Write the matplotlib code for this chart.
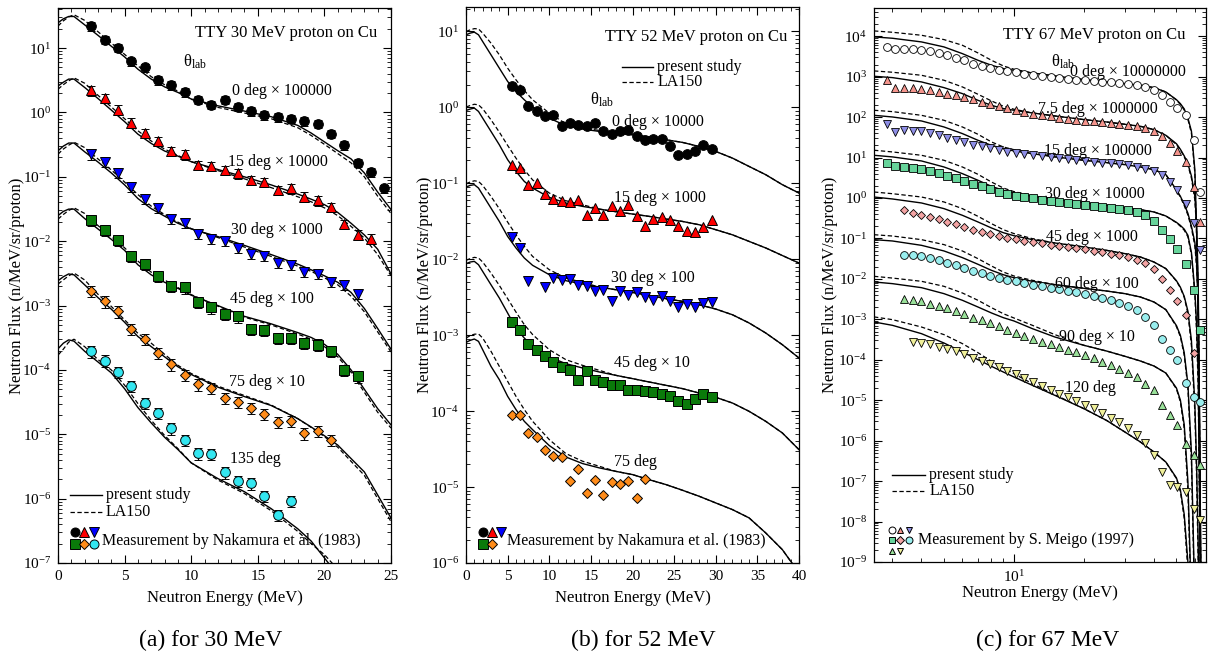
import numpy as np
import matplotlib
matplotlib.use("Agg")
import matplotlib.pyplot as plt
from matplotlib.ticker import LogLocator, NullFormatter, MultipleLocator

plt.rcParams['font.family'] = ['Liberation Serif', 'DejaVu Serif']
plt.rcParams['mathtext.fontset'] = 'custom'
plt.rcParams['mathtext.rm'] = 'Liberation Serif'
plt.rcParams['mathtext.it'] = 'Liberation Serif:italic'
plt.rcParams['axes.linewidth'] = 0.9
plt.rcParams['axes.unicode_minus'] = False

nan = np.nan

# ---------------- (a) 30 MeV : calculations ----------------
ea = [0, 0.4, 0.8, 1.2, 2, 3, 4, 5, 6, 7, 8, 9, 10, 12, 14, 16, 18, 19, 20, 21, 22, 23, 24, 25]
a_pres_0 = [24.7, 28.5, 31.0, 31.0, 23.0, 15.8, 10.7, 7.3, 4.7, 3.3, 2.5, 2.05, 1.62, 1.27, 1.05, 0.86, 0.63, 0.48, 0.35, 0.255, 0.19, 0.115, 0.058, 0.031]
a_la_0 = [22.0, 26.5, 30.5, 33.0, 27.0, 18.0, 12.0, 8.0, 5.3, 3.6, 2.7, 2.15, 1.6, 1.2, 0.98, 0.80, 0.58, 0.44, 0.32, 0.23, 0.165, 0.10, 0.05, 0.027]
a_pres_15 = [2.58, 2.95, 3.3, 3.3, 2.45, 1.65, 1.09, 0.72, 0.46, 0.33, 0.252, 0.21, 0.172, 0.13, 0.10, 0.075, 0.054, 0.045, 0.037, 0.028, 0.019, 0.0125, 0.0075, 0.0031]
a_la_15 = [2.3, 2.7, 3.1, 3.45, 2.85, 1.85, 1.22, 0.80, 0.52, 0.36, 0.27, 0.215, 0.172, 0.125, 0.093, 0.068, 0.049, 0.041, 0.033, 0.025, 0.017, 0.0112, 0.0062, 0.0029]
a_pres_30 = [0.254, 0.30, 0.335, 0.335, 0.245, 0.17, 0.115, 0.075, 0.046, 0.032, 0.0245, 0.019, 0.0155, 0.0118, 0.0086, 0.0062, 0.0044, 0.0036, 0.0029, 0.0023, 0.0016, 0.0009, 0.00044, 0.00021]
a_la_30 = [0.225, 0.27, 0.31, 0.345, 0.285, 0.19, 0.128, 0.083, 0.053, 0.035, 0.026, 0.0198, 0.0157, 0.0114, 0.0081, 0.0058, 0.0041, 0.0034, 0.0027, 0.0021, 0.0014, 0.0008, 0.00039, 0.00019]
a_pres_45 = [0.025, 0.029, 0.0315, 0.0315, 0.0225, 0.0155, 0.0107, 0.0072, 0.0043, 0.003, 0.0023, 0.00185, 0.00145, 0.001, 0.00068, 0.00052, 0.00038, 0.00032, 0.00025, 0.000175, 0.0001, 5e-5, 2.5e-5, 1.4e-5]
a_la_45 = [0.022, 0.026, 0.030, 0.033, 0.027, 0.0175, 0.0118, 0.0079, 0.0049, 0.0033, 0.0025, 0.0019, 0.00148, 0.00098, 0.00066, 0.0005, 0.00036, 0.0003, 0.00023, 0.00016, 9.2e-5, 4.5e-5, 2.2e-5, 1.25e-5]
a_pres_75 = [0.00243, 0.0028, 0.0031, 0.0030, 0.0021, 0.00133, 0.00088, 0.00055, 0.00033, 0.00023, 0.00016, 0.000112, 8.5e-5, 5.4e-5, 3.85e-5, 2.8e-5, 1.75e-5, 1.3e-5, 9.5e-6, 6.8e-6, 4.2e-6, 2.6e-6, 1.14e-6, 5e-7]
a_la_75 = [0.00216, 0.0025, 0.0029, 0.0032, 0.0025, 0.0015, 0.00097, 0.0006, 0.00037, 0.00026, 0.000175, 0.000118, 8.8e-5, 5.6e-5, 4.0e-5, 2.85e-5, 1.75e-5, 1.28e-5, 9.2e-6, 6.3e-6, 3.8e-6, 2.3e-6, 1.0e-6, 4.4e-7]
a_pres_135 = [2.13e-4, 2.6e-4, 2.93e-4, 2.8e-4, 1.95e-4, 1.33e-4, 9.0e-5, 5.1e-5, 2.6e-5, 1.5e-5, 9.0e-6, 5.8e-6, 3.6e-6, 2.05e-6, 1.28e-6, 7.0e-7, 3.4e-7, 2.2e-7, 1.2e-7, 6.5e-8, 3.5e-8, 1.8e-8, 9e-9, 4.5e-9]
a_la_135 = [1.7e-4, 2.1e-4, 2.7e-4, 3.0e-4, 2.3e-4, 1.45e-4, 1.0e-4, 5.8e-5, 3.0e-5, 1.65e-5, 9.6e-6, 6.0e-6, 3.6e-6, 1.95e-6, 1.2e-6, 6.5e-7, 3.1e-7, 2.0e-7, 1.35e-7, 8e-8, 4e-8, 2e-8, 1e-8, 5e-9]

# ---------------- (a) 30 MeV : Nakamura et al. (1983) ----------------
a_e_meas = [2.5, 3.5, 4.5, 5.5, 6.5, 7.5, 8.5, 9.5, 10.5, 11.5, 12.5, 13.5, 14.5, 15.5, 16.5, 17.5, 18.5, 19.5, 20.5, 21.5, 22.5, 23.5, 24.5]
a_m_0 = [22, 13.5, 10.2, 6.2, 5.0, 3.2, 2.64, 2.06, 1.58, 1.32, 1.58, 1.22, 1.04, 0.91, 0.85, 0.80, 0.73, 0.665, 0.466, 0.311, 0.166, 0.119, 0.066]
a_m_15 = [2.21, 1.68, 1.11, 0.69, 0.48, 0.358, 0.251, 0.223, 0.152, 0.147, 0.127, 0.113, 0.089, 0.083, 0.0625, 0.066, 0.049, 0.0432, 0.034, 0.0184, 0.0126, 0.011]
a_m_30 = [0.223, 0.171, 0.116, 0.070, 0.046, 0.0332, 0.0219, 0.019, 0.0131, 0.011, 0.0101, 0.0078, 0.0063, 0.0059, 0.0046, 0.0043, 0.00336, 0.0031, 0.00235, 0.00209, 0.00151]
a_m_45 = [0.0214, 0.0150, 0.0105, 0.0059, 0.0044, 0.0029, 0.00204, 0.00192, 0.00115, 0.00094, 0.00074, 0.00068, 0.00043, 0.00042, 0.000311, 0.000315, 0.00026, 0.000248, 0.000196, 0.0001, 7.93e-5]
a_m_75 = [0.0017, 0.00116, 0.00081, 0.00043, 0.000304, 0.000185, 0.000122, 8.41e-5, 5.96e-5, 5.23e-5, 3.66e-5, 3.18e-5, 2.56e-5, 2.09e-5, 1.56e-5, 1.61e-5, 1.03e-5, 1.13e-5, 8.1e-6]
a_m_135 = [0.000194, 0.00014, 9.25e-5, 5.62e-5, 3.06e-5, 2.14e-5, 1.23e-5, 8.1e-6, 5.03e-6, 4.9e-6, 2.55e-6, 1.88e-6, 1.73e-6, 1.11e-6, 5.6e-7, 9.3e-7]
a_relerr = [0.15, 0.17, 0.17, 0.2, 0.2, 0.2]

# ---------------- (b) 52 MeV : calculations ----------------
eb = [0, 0.5, 1, 1.5, 2, 3, 4, 5, 6, 7, 8, 10, 12, 14, 16, 18, 20, 22, 24, 26, 28, 30, 32, 34, 36, 38, 40]
b_pres_0 = [9.04, 9.51, 9.80, 9.04, 7.38, 4.93, 3.29, 2.20, 1.62, 1.26, 1.01, 0.723, 0.573, 0.518, 0.483, 0.459, 0.436, 0.407, 0.375, 0.346, 0.306, 0.263, 0.215, 0.167, 0.130, 0.096, 0.0745]
b_la_0 = [10.0, 10.5, 10.9, 10.8, 9.51, 7.02, 4.93, 3.29, 2.31, 1.67, 1.26, 0.841, 0.609, 0.535, 0.498, 0.468, 0.436, 0.407, 0.375, 0.346, 0.306, 0.263, 0.215, 0.167, 0.130, 0.096, 0.0745]
b_pres_15 = [0.912, 0.95, 0.98, 0.885, 0.723, 0.483, 0.322, 0.205, 0.144, 0.106, 0.0867, 0.0653, 0.0550, 0.0497, 0.0458, 0.0423, 0.0394, 0.0367, 0.0339, 0.0315, 0.0285, 0.0245, 0.0210, 0.0172, 0.0141, 0.0112, 0.00891]
b_la_15 = [1.01, 1.06, 1.10, 1.08, 0.96, 0.687, 0.473, 0.316, 0.215, 0.151, 0.111, 0.0745, 0.059, 0.0522, 0.0458, 0.0423, 0.0394, 0.0367, 0.0339, 0.0315, 0.0285, 0.0245, 0.0210, 0.0172, 0.0141, 0.0112, 0.00891]
b_pres_30 = [0.0893, 0.0939, 0.096, 0.0867, 0.0708, 0.0472, 0.0315, 0.0200, 0.0141, 0.0104, 0.00832, 0.00627, 0.00522, 0.00472, 0.00431, 0.00397, 0.00366, 0.00335, 0.00303, 0.00279, 0.00252, 0.00221, 0.00186, 0.00145, 0.00107, 0.00075, 0.000501]
b_la_30 = [0.0989, 0.104, 0.108, 0.106, 0.0939, 0.0673, 0.0463, 0.0309, 0.0210, 0.0148, 0.0109, 0.00729, 0.00566, 0.00497, 0.00431, 0.00397, 0.00366, 0.00335, 0.00303, 0.00279, 0.00252, 0.00221, 0.00186, 0.00145, 0.00107, 0.00075, 0.000501]
b_pres_45 = [0.00875, 0.0092, 0.00938, 0.00848, 0.00693, 0.00462, 0.00309, 0.00196, 0.00124, 0.000918, 0.000713, 0.000516, 0.000422, 0.00037, 0.000328, 0.000296, 0.000268, 0.000242, 0.000219, 0.000198, 0.000173, 0.000152, 0.000128, 9.95e-5, 7.35e-5, 5.16e-5, 3.11e-5]
b_la_45 = [0.00968, 0.0102, 0.0106, 0.0104, 0.0092, 0.00659, 0.00453, 0.00303, 0.00202, 0.00138, 0.00102, 0.000645, 0.000476, 0.000401, 0.000345, 0.000296, 0.000268, 0.000242, 0.000219, 0.000198, 0.000173, 0.000152, 0.000128, 9.95e-5, 7.35e-5, 5.16e-5, 3.11e-5]
b_pres_75 = [0.000805, 0.000855, 0.000891, 0.00083, 0.000645, 0.000389, 0.00026, 0.000157, 0.000105, 7.35e-5, 5.7e-5, 3.52e-5, 2.49e-5, 2.04e-5, 1.79e-5, 1.61e-5, 1.46e-5, 1.25e-5, 1.08e-5, 9.08e-6, 7.57e-6, 6.18e-6, 5.05e-6, 3.93e-6, 2.49e-6, 1.5e-6, 7.4e-7]
b_la_75 = [0.000918, 0.000986, 0.00103, 0.00104, 0.000918, 0.000614, 0.000389, 0.000247, 0.000157, 0.000105, 7.35e-5, 4.22e-5, 2.76e-5, 2.19e-5, 1.88e-5, 1.61e-5, 1.46e-5, 1.25e-5, 1.08e-5, 9.08e-6, 7.57e-6, 6.18e-6, 5.05e-6, 3.93e-6, 2.49e-6, 1.5e-6, 7.4e-7]

# ---------------- (b) 52 MeV : Nakamura et al. (1983) ----------------
b_e_meas = [5.5, 6.5, 7.5, 8.5, 9.5, 10.5, 11.5, 12.5, 13.5, 14.5, 15.5, 16.5, 17.5, 18.5, 19.5, 20.5, 21.5, 22.5, 23.5, 24.5, 25.5, 26.5, 27.5, 28.5, 29.5]
b_m_0 = [1.89, 1.67, 1.03, 0.904, 0.777, 0.80, 0.561, 0.621, 0.59, 0.561, 0.621, 0.483, 0.45, 0.492, 0.508, 0.424, 0.375, 0.383, 0.383, 0.306, 0.238, 0.245, 0.263, 0.316, 0.282]
b_m_15 = [0.172, 0.159, 0.096, 0.101, 0.0723, 0.0627, 0.059, 0.0561, 0.0608, 0.0386, 0.0468, 0.0386, 0.0497, 0.0428, 0.0522, 0.0367, 0.0277, 0.0342, 0.0356, 0.0332, 0.0277, 0.0238, 0.0226, 0.0263, 0.0325]
b_e_30 = [5.5, 6.5, 7.5, 9.5, 10.5, 11.5, 12.5, 13.5, 14.5, 15.5, 16.5, 17.5, 18.5, 19.5, 20.5, 21.5, 22.5, 23.5, 24.5, 25.5, 26.5, 27.5, 28.5, 29.5]
b_m_30 = [0.0196, 0.0141, 0.00512, 0.0043, 0.00566, 0.00538, 0.0055, 0.00463, 0.0044, 0.00386, 0.00397, 0.00279, 0.00386, 0.00342, 0.00371, 0.00315, 0.00294, 0.00325, 0.00285, 0.00235, 0.0026, 0.00235, 0.00265, 0.00271]
b_m_45 = [0.00148, 0.00118, 0.000774, 0.000632, 0.000527, 0.00044, 0.000378, 0.000345, 0.000255, 0.000334, 0.000255, 0.00024, 0.000223, 0.000223, 0.000192, 0.000192, 0.000182, 0.000179, 0.00017, 0.00016, 0.000135, 0.000126, 0.000146, 0.00017, 0.000155]
b_e_75 = [5.5, 6.5, 7.5, 8.5, 9.5, 10.5, 11.5, 12.5, 13.5, 14.5, 15.5, 16.5, 17.5, 18.5, 19.5, 20.5, 21.5]
b_m_75 = [9.0e-5, 8.81e-5, 5.16e-5, 4.57e-5, 3.05e-5, 2.59e-5, 2.47e-5, 1.19e-5, 1.75e-5, 8.37e-6, 1.25e-5, 7.96e-6, 1.16e-5, 1.1e-5, 1.22e-5, 7.13e-6, 1.28e-5]

# ---------------- (c) 67 MeV : calculations ----------------
ec = [2.5, 3, 4, 5, 6, 7, 8, 9, 10, 12, 15, 20, 25, 30, 35, 40, 45, 50, 52, 54, 56, 58, 60, 61, 62, 63, 64, 66]
c_pres_0 = [9640, 8930, 7250, 5450, 3720, 2550, 1920, 1590, 1440, 1240, 1040, 848, 742, 675, 614, 537, 420,
            270, 215, 160, 95, 45, 5, 0.2, 1e-3, 1e-7, 1e-12, 1e-16]
c_la_0 = [13550, 12560, 10590, 8280, 5990, 3870, 2550, 1850, 1530, 1240, 1040, 848, 742, 675, 614, 537, 420,
          265, 205, 150, 88, 40, 4, 0.12, 5e-4, 5e-8, 5e-13, 1e-16]
c_pres_7 = [1025, 950, 743, 537, 382, 261, 196, 163, 148, 127, 107, 86.9, 76.0, 66.6, 59.4, 49.2, 35.6,
            22, 16, 11, 7, 3.5, 1.1, 0.25, 0.01, 1e-6, 1e-11, 1e-16]
c_la_7 = [1390, 1290, 1085, 817, 559, 368, 252, 186, 157, 127, 107, 86.9, 76.0, 66.6, 59.4, 49.2, 35.6,
          21, 15.5, 10.5, 6.5, 3.1, 0.9, 0.17, 5e-3, 3e-7, 5e-12, 1e-16]
c_pres_15 = [111, 101, 80.5, 57.2, 39.2, 26.8, 20.1, 16.7, 14.6, 12.5, 10.4, 8.57, 7.52, 6.70, 5.86, 5.04, 3.8,
             1.6, 1.1, 0.7, 0.42, 0.2, 0.08, 0.027, 0.004, 1e-6, 1e-11, 1e-16]
c_la_15 = [148, 137, 111, 83.6, 57.2, 37.7, 24.4, 18.3, 15.7, 13.0, 10.4, 8.57, 7.52, 6.70, 5.86, 5.04, 3.8,
           1.55, 1.05, 0.65, 0.38, 0.18, 0.065, 0.02, 0.0025, 5e-7, 5e-12, 1e-16]
c_pres_30 = [11.4, 10.4, 8.26, 5.86, 4.01, 2.75, 1.95, 1.55, 1.33, 1.10, 0.931, 0.769, 0.661, 0.579, 0.516, 0.452, 0.36,
             0.25, 0.21, 0.17, 0.12, 0.045, 0.005, 8e-4, 5e-5, 1e-8, 1e-12, 1e-16]
c_la_30 = [15.2, 13.8, 11.4, 8.57, 5.86, 3.86, 2.49, 1.77, 1.44, 1.15, 0.931, 0.769, 0.661, 0.579, 0.516, 0.452, 0.36,
           0.245, 0.2, 0.16, 0.11, 0.04, 0.004, 5e-4, 2e-5, 5e-9, 5e-13, 1e-16]
c_pres_45 = [1.06, 0.948, 0.755, 0.547, 0.374, 0.256, 0.182, 0.139, 0.117, 0.0936, 0.0774, 0.0617, 0.0509, 0.0422, 0.0348, 0.0262, 0.018,
             0.009, 0.0062, 0.0037, 0.0016, 3e-4, 8e-6, 3e-7, 3e-9, 1e-12, 1e-14, 1e-16]
c_la_45 = [1.41, 1.28, 1.06, 0.80, 0.547, 0.353, 0.233, 0.165, 0.132, 0.099, 0.0774, 0.0617, 0.0509, 0.0422, 0.0348, 0.0262, 0.018,
           0.0088, 0.006, 0.0035, 0.0014, 2.2e-4, 5e-6, 1.5e-7, 1e-9, 5e-13, 5e-15, 1e-16]
c_pres_60 = [0.0936, 0.0867, 0.0677, 0.0491, 0.0336, 0.023, 0.0163, 0.0127, 0.0107, 0.00873, 0.00721, 0.00585, 0.00502, 0.00432, 0.00357, 0.00269, 0.00174,
             7e-4, 4e-4, 1.5e-4, 2.5e-5, 5e-7, 1e-10, 1e-12, 1e-13, 1e-14, 1e-15, 1e-16]
c_la_60 = [0.124, 0.115, 0.0936, 0.0705, 0.0491, 0.0317, 0.0209, 0.0148, 0.0118, 0.00923, 0.00721, 0.00585, 0.00502, 0.00432, 0.00357, 0.00269, 0.00174,
           6.6e-4, 3.7e-4, 1.3e-4, 2e-5, 3e-7, 5e-11, 5e-13, 5e-14, 5e-15, 5e-16, 1e-16]
c_pres_90 = [0.0084, 0.00764, 0.00608, 0.00432, 0.00296, 0.00202, 0.00144, 0.0011, 9.12e-4, 5.89e-4, 3.66e-4, 2.28e-4, 1.65e-4, 1.22e-4, 9.33e-5, 7.03e-5, 4.71e-5,
             2.0e-5, 1.0e-5, 2.5e-6, 1e-7, 1e-10, 1e-13, 1e-14, 1e-15, 1e-15, 1e-16, 1e-16]
c_la_90 = [0.0116, 0.0105, 0.00873, 0.00656, 0.00449, 0.00296, 0.00195, 0.00138, 0.00108, 7.12e-4, 4.19e-4, 2.28e-4, 1.65e-4, 1.22e-4, 9.33e-5, 7.03e-5, 4.71e-5,
           1.9e-5, 9e-6, 2e-6, 6e-8, 5e-11, 5e-14, 5e-15, 5e-16, 5e-16, 1e-16, 1e-16]
c_pres_120 = [8.61e-4, 7.12e-4, 4.43e-4, 2.6e-4, 1.56e-4, 1.01e-4, 6.89e-5, 4.99e-5, 3.76e-5, 2.34e-5, 1.32e-5, 6.18e-6, 3.18e-6, 1.64e-6, 9.27e-7, 5.25e-7, 2.97e-7,
              1.2e-7, 6e-8, 1.5e-8, 1e-9, 1e-11, 1e-13, 1e-14, 1e-15, 1e-15, 1e-16, 1e-16]
c_la_120 = [1.15e-3, 9.84e-4, 6.47e-4, 4.19e-4, 2.51e-4, 1.5e-4, 9.16e-5, 6.27e-5, 4.54e-5, 2.57e-5, 1.37e-5, 6.18e-6, 3.18e-6, 1.64e-6, 9.27e-7, 5.25e-7, 2.97e-7,
            1.15e-7, 5.5e-8, 1.2e-8, 6e-10, 5e-12, 5e-14, 5e-15, 5e-16, 5e-16, 1e-16, 1e-16]

# ---------------- (c) 67 MeV : S. Meigo (1997) ----------------
c_e_meas = [2.84, 3.09, 3.37, 3.67, 4.00, 4.35, 4.74, 5.16, 5.62, 6.12, 6.66, 7.26, 7.90, 8.60, 9.37, 10.2, 11.1, 12.1, 13.2, 14.4, 15.6, 17.0, 18.5, 20.2, 22.0, 23.9, 26.1, 28.4, 30.9, 33.7, 36.7, 39.9, 43.5, 47.0, 50.5, 54.7, 59.4, 63.4]
c_m_0 = [5450, 4960, 4960, 4770, 4590, 4340, 3870, 3390, 2970, 2550, 2110, 1850, 1650, 1500, 1390, 1290, 1190, 1130, 1070, 1005, 950, 897, 848, 817, 786, 757, 728, 701, 675, 638, 559, 480, 348, 238, 172, 111, 26.8, 1.41]
c_m_7 = [817, 527, 537, 517, 489, 462, 420, 382, 348, 310, 277, 238, 208, 186, 166, 148, 135, 122, 113, 105, 97.3, 92.0, 86.9, 82.0, 79.1, 76.0, 71.9, 69.2, 65.3, 61.8, 55.1, 44.7, 33.6, 23.0, 14.6, 7.80, 1.88, 0.256]
c_m_15 = [69.2, 43.0, 47.3, 45.6, 44.7, 40.6, 35.6, 31.2, 27.8, 24.4, 20.9, 19.0, 17.3, 15.5, 14.1, 13.0, 12.1, 11.4, 10.8, 10.2, 9.61, 9.08, 8.57, 8.26, 7.80, 7.50, 7.23, 6.83, 6.45, 5.98, 5.33, 4.58, 3.65, 2.49, 1.55, 0.726, 0.242, 0.0509]
c_m_30 = [7.36, 6.10, 5.86, 5.54, 5.14, 4.67, 4.09, 3.58, 3.13, 2.64, 2.27, 1.95, 1.67, 1.44, 1.28, 1.15, 1.06, 0.984, 0.912, 0.863, 0.815, 0.769, 0.727, 0.687, 0.649, 0.613, 0.579, 0.537, 0.498, 0.444, 0.374, 0.266, 0.165, 0.0953, 0.0561, 0.0239, 0.00522, 5.36e-4]
c_m_45 = [nan, nan, 0.498, 0.436, 0.381, 0.340, 0.298, 0.256, 0.224, 0.192, 0.165, 0.145, 0.129, 0.115, 0.105, 0.0953, 0.0884, 0.082, 0.076, 0.0705, 0.0665, 0.0617, 0.0582, 0.054, 0.05, 0.0463, 0.0422, 0.0384, 0.0342, 0.0299, 0.0248, 0.0179, 0.0102, 0.00522, 0.00279, 0.00126, 1.47e-4, nan]
c_m_60 = [nan, nan, 0.0398, 0.0384, 0.0362, 0.033, 0.0288, 0.0248, 0.0217, 0.0186, 0.0157, 0.0137, 0.012, 0.0107, 0.0096, 0.00873, 0.00793, 0.00721, 0.00656, 0.00608, 0.00564, 0.00513, 0.00467, 0.00424, 0.00378, 0.00338, 0.00296, 0.00254, 0.0021, 0.00167, 0.00115, 7.12e-4, 3.2e-4, 1.71e-4, 9.7e-5, 2.67e-5, 1.2e-5, 9.0e-6]
c_m_90 = [nan, nan, 0.00325, 0.00307, 0.00279, 0.00244, 0.00218, 0.00187, 0.00161, 0.00133, 0.0011, 9.46e-4, 8.13e-4, 6.73e-4, 5.56e-4, 4.6e-4, 3.8e-4, 3.33e-4, 2.81e-4, 2.41e-4, 2.03e-4, 1.78e-4, 1.56e-4, 1.32e-4, 1.09e-4, 9.0e-5, 7.58e-5, 6.04e-5, 4.81e-5, 3.76e-5, 2.57e-5, 1.76e-5, 7.77e-6, 4.4e-6, 2.49e-6, 8.43e-7, 4.5e-7, 2.55e-7]
c_m_120 = [nan, nan, nan, 2.75e-4, 2.65e-4, 2.41e-4, 2.11e-4, 1.82e-4, 1.62e-4, 1.36e-4, 1.13e-4, 9.33e-5, 7.73e-5, 6.52e-5, 5.28e-5, 4.37e-5, 3.48e-5, 2.88e-5, 2.29e-5, 1.82e-5, 1.45e-5, 1.2e-5, 9.57e-6, 7.77e-6, 6.31e-6, 4.93e-6, 3.71e-6, 2.84e-6, 2.02e-6, 1.41e-6, 8.75e-7, 4.34e-7, 1.68e-7, 7.86e-8, 7.14e-8, 5.37e-8, 2.08e-8, 1.07e-8]

# ---------------- labels ----------------
a_labels = ["0 deg \u00d7 100000", "15 deg \u00d7 10000", "30 deg \u00d7 1000", "45 deg \u00d7 100", "75 deg \u00d7 10", "135 deg"]
b_labels = ["0 deg \u00d7 10000", "15 deg \u00d7 1000", "30 deg \u00d7 100", "45 deg \u00d7 10", "75 deg"]
c_labels = ["0 deg \u00d7 10000000", "7.5 deg \u00d7 1000000", "15 deg \u00d7 100000", "30 deg \u00d7 10000",
            "45 deg \u00d7 1000", "60 deg \u00d7 100", "90 deg \u00d7 10", "120 deg"]

FS = 12
W, H = 1212, 654
fig = plt.figure(figsize=(W / 100, H / 100), dpi=100)
ax_a = fig.add_axes([58 / W, 1 - 563 / H, 333 / W, 555 / H])
ax_b = fig.add_axes([466 / W, 1 - 563 / H, 333 / W, 556 / H])
ax_c = fig.add_axes([874 / W, 1 - 562 / H, 332 / W, 554 / H])


def style(ax):
    ax.set_yscale('log')
    ax.yaxis.set_major_locator(LogLocator(base=10, numticks=40))
    ax.yaxis.set_minor_locator(LogLocator(base=10, subs=np.arange(2, 10), numticks=40))
    ax.yaxis.set_minor_formatter(NullFormatter())
    ax.tick_params(which='both', direction='in', top=True, right=True, labelsize=11)
    ax.tick_params(which='major', length=6, width=0.8, pad=5)
    ax.tick_params(which='minor', length=3, width=0.6)
    ax.set_xlabel("Neutron Energy (MeV)", fontsize=FS)
    ax.set_ylabel("Neutron Flux (n/MeV/sr/proton)", fontsize=FS)


def calc(ax, e, pres, la):
    ax.plot(e, pres, color='k', lw=1.0, zorder=2)
    ax.plot(e, la, color='k', lw=0.9, ls=(0, (3.5, 2)), zorder=2)


def legend_lines(ax, x0, x1, y0, y1):
    ax.plot([x0, x1], [y0, y0], color='k', lw=1.0, transform=ax.transAxes, clip_on=False)
    ax.plot([x0, x1], [y1, y1], color='k', lw=0.9, ls=(0, (3.5, 2)), transform=ax.transAxes, clip_on=False)
    ax.text(x1 + 0.012, y0, "present study", transform=ax.transAxes, fontsize=11.5, va='center')
    ax.text(x1 + 0.012, y1, "LA150", transform=ax.transAxes, fontsize=11.5, va='center')


def legend_marker(ax, x, y, mk, fc, ms):
    ax.plot([x], [y], marker=mk, ms=ms, mfc=fc, mec='k', mew=0.7, ls='none',
            transform=ax.transAxes, clip_on=False)


# ================= panel (a) =================
ax = ax_a
style(ax)
calc(ax, ea, a_pres_0, a_la_0)
calc(ax, ea, a_pres_15, a_la_15)
calc(ax, ea, a_pres_30, a_la_30)
calc(ax, ea, a_pres_45, a_la_45)
calc(ax, ea, a_pres_75, a_la_75)
calc(ax, ea, a_pres_135, a_la_135)

a_sets = [(a_m_0, 'o', '#000000'), (a_m_15, '^', '#ff0000'), (a_m_30, 'v', '#0000ff'),
          (a_m_45, 's', '#0a7a0a'), (a_m_75, 'D', '#ff8c1a'), (a_m_135, 'o', '#33e6f0')]
for (vals, mk, fc), rel in zip(a_sets, a_relerr):
    e = a_e_meas[:len(vals)]
    v = np.array(vals)
    ms = 5.5 if mk == 'D' else 7
    ax.errorbar(e, v, yerr=v * rel, fmt=mk, ms=ms, mfc=fc, mec='k', mew=0.7,
                ecolor='k', elinewidth=0.9, capsize=3, capthick=0.9, zorder=3)

ax.set_xlim(0, 25)
ax.set_ylim(1e-7, 42)
ax.xaxis.set_major_locator(MultipleLocator(5))
ax.xaxis.set_minor_locator(MultipleLocator(1))
ax.xaxis.set_label_coords(0.5, -0.049)
ax.yaxis.set_label_coords(-0.100, 0.5)

ax.text(0.958, 0.955, "TTY 30 MeV proton on Cu", transform=ax.transAxes, ha='right', va='center', fontsize=FS)
ax.text(0.411, 0.903, "\u03b8$_{\\rm lab}$", transform=ax.transAxes, ha='center', va='center', fontsize=FS)
for txt, (fx, fy) in zip(a_labels, [(0.673, 0.850), (0.661, 0.723), (0.658, 0.600),
                                    (0.643, 0.476), (0.628, 0.326), (0.592, 0.187)]):
    ax.text(fx, fy, txt, transform=ax.transAxes, ha='center', va='center', fontsize=11.5)
legend_lines(ax, 0.036, 0.132, 0.1225, 0.092)
for (x, y), (vals, mk, fc) in zip([(0.051, 0.056), (0.078, 0.056), (0.108, 0.056),
                                   (0.051, 0.034), (0.078, 0.034), (0.108, 0.034)], a_sets):
    legend_marker(ax, x, y, mk, fc, 5 if mk == 'D' else 6.5)
ax.text(0.132, 0.040, "Measurement by Nakamura et al. (1983)", transform=ax.transAxes,
        va='center', fontsize=11.5)

# ================= panel (b) =================
ax = ax_b
style(ax)
calc(ax, eb, b_pres_0, b_la_0)
calc(ax, eb, b_pres_15, b_la_15)
calc(ax, eb, b_pres_30, b_la_30)
calc(ax, eb, b_pres_45, b_la_45)
calc(ax, eb, b_pres_75, b_la_75)

b_sets = [(b_e_meas, b_m_0, 'o', '#000000'), (b_e_meas, b_m_15, '^', '#ff0000'),
          (b_e_30, b_m_30, 'v', '#0000ff'), (b_e_meas, b_m_45, 's', '#0a7a0a'),
          (b_e_75, b_m_75, 'D', '#ff8c1a')]
for e, vals, mk, fc in b_sets:
    ms = 5.5 if mk == 'D' else 7
    ax.plot(e, vals, ls='none', marker=mk, ms=ms, mfc=fc, mec='k', mew=0.7, zorder=3)

ax.set_xlim(0, 40)
ax.set_ylim(1e-6, 21)
ax.xaxis.set_major_locator(MultipleLocator(5))
ax.xaxis.set_minor_locator(MultipleLocator(1))
ax.xaxis.set_label_coords(0.5, -0.049)
ax.yaxis.set_label_coords(-0.100, 0.5)

ax.text(0.964, 0.946, "TTY 52 MeV proton on Cu", transform=ax.transAxes, ha='right', va='center', fontsize=FS)
legend_lines(ax, 0.468, 0.562, 0.892, 0.865)
ax.text(0.408, 0.833, "\u03b8$_{\\rm lab}$", transform=ax.transAxes, ha='center', va='center', fontsize=FS)
for txt, (fx, fy) in zip(b_labels, [(0.577, 0.793), (0.583, 0.656), (0.562, 0.513),
                                    (0.559, 0.360), (0.508, 0.182)]):
    ax.text(fx, fy, txt, transform=ax.transAxes, ha='center', va='center', fontsize=11.5)
for (x, y), (e, vals, mk, fc) in zip([(0.051, 0.056), (0.078, 0.056), (0.105, 0.056),
                                      (0.051, 0.034), (0.078, 0.034)], b_sets):
    legend_marker(ax, x, y, mk, fc, 5 if mk == 'D' else 6.5)
ax.text(0.123, 0.040, "Measurement by Nakamura et al. (1983)", transform=ax.transAxes,
        va='center', fontsize=11.5)

# ================= panel (c) =================
ax = ax_c
style(ax)
ax.set_xscale('log')
calc(ax, ec, c_pres_0, c_la_0)
calc(ax, ec, c_pres_7, c_la_7)
calc(ax, ec, c_pres_15, c_la_15)
calc(ax, ec, c_pres_30, c_la_30)
calc(ax, ec, c_pres_45, c_la_45)
calc(ax, ec, c_pres_60, c_la_60)
calc(ax, ec, c_pres_90, c_la_90)
calc(ax, ec, c_pres_120, c_la_120)

c_sets = [(c_m_0, 'o', '#ffffff'), (c_m_7, '^', '#f4948c'), (c_m_15, 'v', '#8e8ee6'),
          (c_m_30, 's', '#66d49a'), (c_m_45, 'D', '#f4a4a4'), (c_m_60, 'o', '#99eeee'),
          (c_m_90, '^', '#99e099'), (c_m_120, 'v', '#f0f09a')]
for vals, mk, fc in c_sets:
    ms = 4.3 if mk == 'D' else 5.6
    ax.plot(c_e_meas, vals, ls='none', marker=mk, ms=ms, mfc=fc, mec='k', mew=0.6, zorder=3)

ax.set_xlim(2.5, 67)
ax.set_ylim(1e-9, 5e4)
ax.xaxis.set_major_locator(LogLocator(base=10, numticks=10))
ax.xaxis.set_minor_locator(LogLocator(base=10, subs=np.arange(2, 10), numticks=10))
ax.xaxis.set_minor_formatter(NullFormatter())
ax.xaxis.set_label_coords(0.5, -0.042)
ax.yaxis.set_label_coords(-0.108, 0.5)

ax.text(0.937, 0.951, "TTY 67 MeV proton on Cu", transform=ax.transAxes, ha='right', va='center', fontsize=FS)
ax.text(0.569, 0.903, "\u03b8$_{\\rm lab}$", transform=ax.transAxes, ha='center', va='center', fontsize=FS)
for txt, (fx, fy) in zip(c_labels, [(0.765, 0.884), (0.675, 0.818), (0.675, 0.742), (0.666, 0.664),
                                    (0.657, 0.587), (0.672, 0.502), (0.672, 0.406), (0.651, 0.314)]):
    ax.text(fx, fy, txt, transform=ax.transAxes, ha='center', va='center', fontsize=11.5)
legend_lines(ax, 0.054, 0.154, 0.157, 0.128)
for (x, y), (vals, mk, fc) in zip([(0.054, 0.058), (0.078, 0.058), (0.105, 0.058),
                                   (0.054, 0.040), (0.078, 0.040), (0.105, 0.040),
                                   (0.054, 0.020), (0.078, 0.020)], c_sets):
    legend_marker(ax, x, y, mk, fc, 4 if mk == 'D' else 5)
ax.text(0.133, 0.040, "Measurement by S. Meigo (1997)", transform=ax.transAxes,
        va='center', fontsize=11.5)

# ================= captions =================
fig.text(211 / W, 1 - 640 / H, "(a) for 30 MeV", ha='center', va='center', fontsize=17)
fig.text(643 / W, 1 - 640 / H, "(b) for 52 MeV", ha='center', va='center', fontsize=17)
fig.text(1048 / W, 1 - 640 / H, "(c) for 67 MeV", ha='center', va='center', fontsize=17)

fig.savefig("out.png", dpi=100)
